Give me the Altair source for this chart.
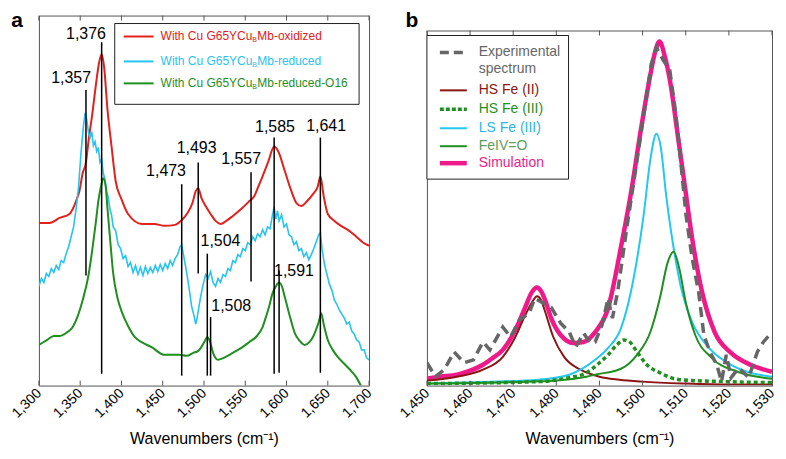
import altair as alt
import pandas as pd

FONT = "Liberation Sans"
FRAME = "#555555"

# ---------------- Panel a data ----------------
A_TICKS = [1300, 1350, 1400, 1450, 1500, 1550, 1600, 1650, 1700]

red_wn = [1300, 1313, 1325, 1337, 1345, 1349, 1353, 1357, 1360, 1365, 1369, 1373, 1376, 1379, 1383, 1388,
          1393, 1400, 1408, 1425, 1440, 1452, 1465, 1472, 1480, 1486, 1490, 1493, 1497, 1502, 1508, 1514,
          1520, 1527, 1535, 1545, 1555, 1561, 1566, 1571, 1578, 1585, 1590, 1598, 1605, 1612, 1618, 1625,
          1632, 1638, 1641, 1645, 1650, 1658, 1666, 1676, 1686, 1693, 1700]
red_val = [164, 164, 169, 173, 186, 196, 214, 225, 246, 276, 303, 326, 334, 321, 279, 241,
           206, 188, 173, 163, 163, 161, 162, 166, 174, 184, 196, 199, 189, 181, 173, 166,
           163, 166, 171, 178, 186, 191, 201, 211, 226, 241, 236, 216, 198, 184, 181, 186,
           193, 201, 211, 191, 173, 166, 161, 156, 149, 144, 141]

cyan_wn = [1300, 1303, 1306, 1309, 1312, 1315, 1318, 1321, 1324, 1327, 1330, 1333, 1336, 1339, 1342, 1345,
           1348, 1351, 1354, 1356, 1358, 1360, 1362, 1364, 1366, 1368, 1370, 1372, 1374, 1376, 1378, 1380,
           1382, 1384, 1386, 1388, 1390, 1393, 1396, 1399, 1402, 1405, 1408, 1411, 1414, 1417, 1420, 1423,
           1426, 1429, 1432, 1435, 1438, 1441, 1444, 1447, 1450, 1453, 1456, 1459, 1462, 1465, 1468, 1471,
           1473, 1476, 1479, 1482, 1485, 1488, 1490, 1492, 1494, 1496, 1499, 1502, 1505, 1508, 1511, 1514,
           1517, 1520, 1523, 1526, 1529, 1532, 1535, 1538, 1541, 1544, 1547, 1550, 1553, 1556, 1559, 1562,
           1565, 1568, 1571, 1574, 1577, 1580, 1583, 1585, 1587, 1589, 1591, 1594, 1597, 1600, 1603, 1606,
           1609, 1612, 1615, 1618, 1621, 1624, 1627, 1630, 1633, 1636, 1639, 1641, 1643, 1646, 1649, 1652,
           1655, 1658, 1661, 1664, 1667, 1670, 1673, 1676, 1679, 1682, 1685, 1688, 1691, 1694, 1697, 1700]
cyan_val = [100, 108, 104, 113, 110, 118, 114, 121, 117, 126, 124, 133, 140, 150, 160, 178,
            200, 235, 262, 275, 268, 255, 250, 256, 242, 246, 236, 240, 225, 228, 214, 208,
            196, 190, 178, 172, 160, 156, 142, 138, 128, 131, 120, 124, 114, 121, 112, 119,
            111, 120, 113, 119, 114, 121, 115, 122, 116, 123, 118, 126, 121, 128, 132, 140,
            142, 128, 114, 98, 80, 70, 62, 70, 80, 90, 102, 112, 108, 115, 104, 100,
            108, 104, 112, 110, 118, 116, 126, 124, 132, 130, 138, 136, 144, 142, 150, 146,
            153, 150, 157, 152, 160, 158, 172, 180, 168, 176, 166, 172, 160, 163, 152, 150,
            142, 145, 136, 138, 130, 134, 127, 132, 138, 145, 152, 154, 138, 122, 112, 102,
            96, 86, 82, 76, 72, 68, 62, 64, 55, 52, 46, 44, 36, 36, 28, 26]

green_wn = [1300, 1310, 1318, 1325, 1333, 1341, 1347, 1353, 1360, 1365, 1369, 1372, 1375, 1378, 1381, 1383,
            1386, 1390, 1395, 1401, 1408, 1416, 1426, 1436, 1452, 1470, 1479, 1487, 1493, 1497, 1501, 1504,
            1507, 1511, 1517, 1524, 1531, 1539, 1547, 1555, 1563, 1571, 1575, 1579, 1583, 1587, 1591, 1594,
            1598, 1604, 1610, 1616, 1622, 1628, 1632, 1636, 1639, 1642, 1645, 1650, 1656, 1662, 1670, 1677,
            1684, 1690]
green_val = [41, 46, 50, 50, 53, 59, 70, 86, 111, 139, 165, 186, 200, 209, 200, 179,
             150, 113, 89, 73, 60, 49, 43, 39, 31, 31, 30, 33, 35, 39, 45, 49,
             45, 33, 26, 28, 31, 35, 39, 44, 49, 59, 69, 80, 93, 100, 104, 101,
             89, 70, 53, 45, 41, 44, 49, 57, 64, 73, 62, 46, 36, 29, 22, 16,
             9, 0]

peak_wn = [1357, 1376, 1473, 1493, 1504, 1508, 1557, 1585, 1591, 1641]
peak_lo = [111, 12, 10, 113, 10, 10, 105, 12, 13, 13]
peak_hi = [298, 346, 203, 225, 133, 69, 215, 250, 116, 250]
peak_text = ["1,357", "1,376", "1,473", "1,493", "1,504", "1,508", "1,557", "1,585", "1,591", "1,641"]
peak_label_wn = [1339, 1357, 1454, 1491, 1520, 1533, 1545, 1586, 1609, 1648]
peak_label_val = [310, 354, 216, 239, 146, 80, 228, 261, 115, 262]

a_legend_names = ["oxidized", "reduced", "reduced-O16"]
a_legend_colors = ["#e3201b", "#27c4f0", "#1f8f1f"]

# ---------------- Panel b data ----------------
B_TICKS = [1450, 1460, 1470, 1480, 1490, 1500, 1510, 1520, 1530]

sim_wn = [1450, 1453, 1457, 1460, 1463, 1465, 1467.6, 1470.5, 1472.8, 1474.3, 1475.5, 1476.5, 1477.5, 1478.8,
          1481, 1484, 1486.3, 1489, 1492, 1495, 1497.3, 1499.6, 1501.4, 1503, 1503.9, 1505.2, 1506.6,
          1508.1, 1509.7, 1511.5, 1513.8, 1516.7, 1520.5, 1525, 1530]
sim_val = [7, 9, 11, 15, 21, 27, 36, 56, 79, 94, 99, 95, 85, 68,
           51, 43, 44, 54, 78, 140, 194, 258, 304, 338, 347, 331, 301,
           254, 204, 148, 94, 54, 33, 21, 14]

hs2_wn = [1450, 1457, 1463, 1467.6, 1470.5, 1472.8, 1474.5, 1475.5, 1476.5, 1477.3, 1479.3, 1481.8, 1485.6,
          1490, 1494.6, 1500, 1510, 1520, 1530]
hs2_val = [5, 9, 16, 29, 49, 71, 85, 90, 86, 76, 49, 29, 16, 9, 6, 4, 2, 1, 1]

hs3_wn = [1450, 1476, 1483, 1487, 1490, 1492, 1494, 1495.7, 1497, 1498.7, 1501, 1504, 1508.5, 1519, 1530]
hs3_val = [2, 4, 8, 13, 23, 31, 41, 46, 44, 34, 21, 13, 6, 4, 3]

ls3_wn = [1450, 1465, 1476, 1483, 1489, 1492, 1495, 1498, 1500.3, 1501.8, 1503.2, 1504.3, 1505.4, 1507,
          1508.8, 1511.5, 1515.4, 1520.5, 1525, 1530]
ls3_val = [2, 4, 6, 11, 26, 38, 58, 110, 174, 228, 254, 238, 194, 144, 101, 64, 38, 21, 13, 9]

fe4_wn = [1450, 1479.5, 1487, 1489, 1495, 1498.7, 1501.8, 1504, 1505.8, 1507.2, 1508.5, 1510, 1512.2,
          1516, 1522, 1530]
fe4_val = [2, 5, 9, 11, 17, 31, 54, 88, 124, 135, 118, 84, 51, 28, 14, 7]

exp_wn = [1450, 1452, 1454, 1456.3, 1458.6, 1460.8, 1463, 1464.6, 1467.6, 1469.4, 1471.4, 1473.7, 1475,
          1476.6, 1478.8, 1481, 1483, 1484.5, 1486.3, 1487.9, 1489, 1490.6, 1492, 1493, 1494.2, 1496.4,
          1498.5, 1500.3, 1502, 1503.2, 1504.8, 1506.3, 1507.7, 1508.8, 1510, 1511.5, 1513, 1514.2,
          1515.6, 1517.2, 1518.3, 1519.4, 1520.5, 1522.3, 1524.6, 1526.6, 1528, 1530]
exp_val = [23, 9, 16, 34, 23, 26, 44, 36, 59, 49, 66, 73, 88,
           84, 79, 63, 54, 39, 53, 43, 44, 61, 88, 68, 94, 161,
           221, 274, 324, 341, 328, 318, 274, 228, 174, 128, 94, 51,
           34, 21, 4, 31, 8, 18, 8, 34, 44, 54]

b_legend_labels = ["HS Fe (II)", "HS Fe (III)", "LS Fe (III)", "FeIV=O", "Simulation"]

# ---------------- layout sizes ----------------
AW, AH = 331, 371
BW, BH = 346, 356
A_DOMAIN_TOP, B_DOMAIN_TOP = 373, 358


def x_enc(domain, ticks):
    return alt.X("wn:Q", scale=alt.Scale(domain=domain, nice=False, zero=False),
                 axis=alt.Axis(values=ticks, format=",.0f", title="Wavenumbers (cm\u207b\u00b9)"))


XA = x_enc([1300, 1700], A_TICKS)
YA = alt.Y("v:Q", scale=alt.Scale(domain=[0, A_DOMAIN_TOP], nice=False, zero=False), axis=None)
XB = x_enc([1450, 1530], B_TICKS)
YB = alt.Y("v:Q", scale=alt.Scale(domain=[0, B_DOMAIN_TOP], nice=False, zero=False), axis=None)


def line(wn, val, X, Y, color, width, interp="monotone", dash=None):
    kw = dict(color=color, strokeWidth=width, interpolate=interp, clip=True)
    if dash:
        kw["strokeDash"] = dash
    return alt.Chart(pd.DataFrame({"wn": wn, "v": val})).mark_line(**kw).encode(x=X, y=Y)


def inner_ticks(ticks, X, h):
    df = pd.DataFrame({"wn": ticks})
    bot = alt.Chart(df).mark_rule(color=FRAME, strokeWidth=1).encode(
        x=X, y=alt.value(h), y2=alt.value(h - 5))
    top = alt.Chart(df).mark_rule(color=FRAME, strokeWidth=1).encode(
        x=X, y=alt.value(0), y2=alt.value(5))
    return [bot, top]


def txt(s, x, y, size, color="black", align="left", weight="normal", baseline="middle"):
    return alt.Chart(pd.DataFrame({"t": [s]})).mark_text(
        font=FONT, fontSize=size, color=color, align=align, baseline=baseline, fontWeight=weight
    ).encode(text="t:N", x=alt.value(x), y=alt.value(y))


def seg(x1, x2, y, color, width, dash=None):
    kw = dict(color=color, strokeWidth=width)
    if dash:
        kw["strokeDash"] = dash
    return alt.Chart(pd.DataFrame({"d": [0]})).mark_rule(**kw).encode(
        x=alt.value(x1), x2=alt.value(x2), y=alt.value(y))


def box(x1, x2, y1, y2):
    return alt.Chart(pd.DataFrame({"d": [0]})).mark_rect(
        fill="white", stroke="#222222", strokeWidth=1).encode(
        x=alt.value(x1), x2=alt.value(x2), y=alt.value(y1), y2=alt.value(y2))


peaks = pd.DataFrame({"wn": peak_wn, "v": peak_lo, "v2": peak_hi})
peak_labels = pd.DataFrame({"wn": peak_label_wn, "v": peak_label_val, "t": peak_text})

layers_a = [
    line(red_wn, red_val, XA, YA, a_legend_colors[0], 2.0),
    line(cyan_wn, cyan_val, XA, YA, a_legend_colors[1], 1.6, interp="linear"),
    line(green_wn, green_val, XA, YA, a_legend_colors[2], 2.0),
    alt.Chart(peaks).mark_rule(color="black", strokeWidth=1.5).encode(x=XA, y=YA, y2="v2:Q"),
    alt.Chart(peak_labels).mark_text(font=FONT, fontSize=16, color="black").encode(x=XA, y=YA, text="t:N"),
]
layers_a += inner_ticks(A_TICKS, XA, AH)
layers_a.append(box(76, 321, 8, 89))
for i, (name, col) in enumerate(zip(a_legend_names, a_legend_colors)):
    yy = [21, 46, 68][i]
    layers_a.append(seg(85, 115, yy, col, 2))
    layers_a.append(txt("With Cu G65YCu", 122, yy, 12, col))
    layers_a.append(txt("B", 214, yy + 4, 7, col))
    layers_a.append(txt("Mb-" + name, 219, yy, 12, col))
layers_a.append(txt("a", -22, 11, 21, "black", align="center", weight="bold", baseline="alphabetic"))

panel_a = alt.layer(*layers_a).properties(width=AW, height=AH)

# ---------------- Panel b ----------------
C_SIM = "#ee1a8a"
C_HS2 = "#8b1414"
C_GRN = "#1f8f1f"
C_LS3 = "#22c8f2"
C_EXP = "#666666"

layers_b = [
    line(sim_wn, sim_val, XB, YB, C_SIM, 4.5),
    line(hs2_wn, hs2_val, XB, YB, C_HS2, 2.0),
    line(ls3_wn, ls3_val, XB, YB, C_LS3, 2.0),
    line(fe4_wn, fe4_val, XB, YB, C_GRN, 2.0),
    line(hs3_wn, hs3_val, XB, YB, C_GRN, 3.5, dash=[4, 3]),
    line(exp_wn, exp_val, XB, YB, C_EXP, 3.5, interp="linear", dash=[10, 6]),
]
layers_b += inner_ticks(B_TICKS, XB, BH)
layers_b.append(box(0, 142, 5, 149))
layers_b.append(seg(13, 40, 22, C_EXP, 3.5, dash=[9, 5]))
layers_b.append(txt("Experimental", 52, 22, 14, C_EXP))
layers_b.append(txt("spectrum", 52, 39, 14, C_EXP))
b_styles = [(C_HS2, 2, None, C_HS2, 60), (C_GRN, 3.5, [4, 2], C_GRN, 79), (C_LS3, 2, None, "#29b6e6", 98),
            (C_GRN, 2, None, "#5d9e5d", 116), (C_SIM, 4.5, None, C_SIM, 133)]
for lab, (col, w, d, tcol, yy) in zip(b_legend_labels, b_styles):
    layers_b.append(seg(13, 40, yy, col, w, dash=d))
    layers_b.append(txt(lab, 52, yy, 14, tcol))

panel_b = alt.layer(*layers_b).properties(width=BW, height=BH)

spacer = txt("b", -15, 11, 21, "black", align="center", weight="bold", baseline="alphabetic").properties(
    width=BW, height=AH - BH, view=alt.ViewBackground(strokeOpacity=0))

right = alt.vconcat(spacer, panel_b, spacing=0, bounds="flush")

chart = alt.hconcat(panel_a, right, spacing=58, bounds="flush", padding=0).configure_view(
    stroke=FRAME, strokeWidth=1
).configure_axis(
    domain=False, ticks=False, tickSize=0, grid=False,
    labelFont=FONT, labelFontSize=14, labelColor="black", labelAngle=-45,
    labelAlign="right", labelBaseline="middle", labelPadding=5,
    titleFont=FONT, titleFontSize=16, titleFontWeight="normal", titleColor="black", titlePadding=10,
    labelOverlap=False
).configure_text(font=FONT)

chart.save("out.html", embed_options={"renderer": "svg", "actions": False})
